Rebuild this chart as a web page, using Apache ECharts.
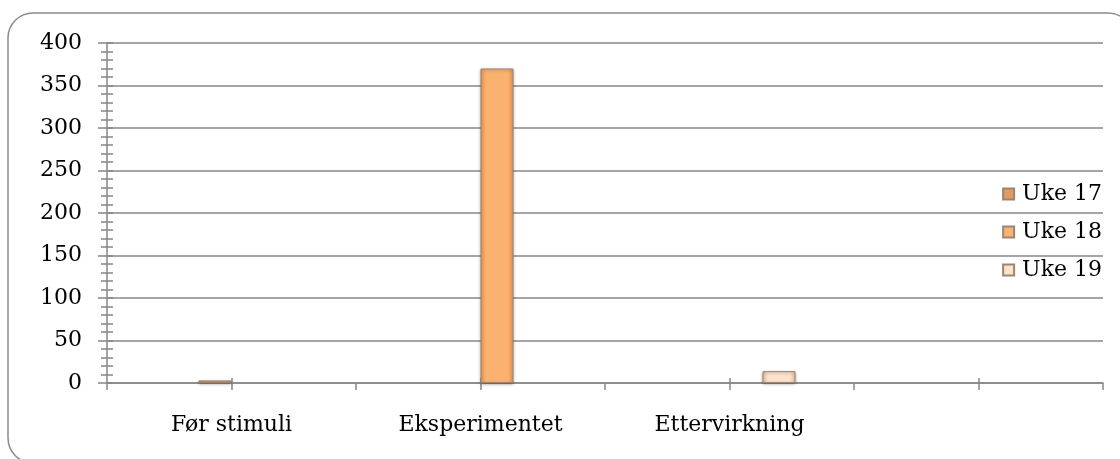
<!DOCTYPE html>
<html>
<head>
<meta charset="utf-8">
<script src="https://cdn.jsdelivr.net/npm/echarts@6/dist/echarts.min.js"></script>
<style>
  html, body { margin: 0; padding: 0; background: #fff; }
  #chart { width: 1120px; height: 459px; }
</style>
</head>
<body>
<div id="chart"></div>
<script>
// ---- data ----
const categories = ['Før stimuli', 'Eksperimentet', 'Ettervirkning', ''];
const seriesNames = ['Uke 17', 'Uke 18', 'Uke 19'];
// empty first slot in each category group (as in the original chart layout)
const emptySlot = [null, null, null, null];
const uke17 = [3, null, null, null];
const uke18 = [null, 370, null, null];
const uke19 = [null, null, 14, null];
const yTicks = { min: 0, max: 400, interval: 50 };

const FONT = 'DejaVu Serif';
const GRAY = '#878787';

function grad(edge, mid) {
  return new echarts.graphic.LinearGradient(0, 0, 1, 0, [
    { offset: 0, color: edge },
    { offset: 0.18, color: mid },
    { offset: 0.82, color: mid },
    { offset: 1, color: edge }
  ]);
}
const colors = [
  grad('#C9804A', '#E39A5E'),
  grad('#EE9650', '#FBB271'),
  grad('#EFC19C', '#FCE2CB')
];

const chart = echarts.init(document.getElementById('chart'), null, { renderer: 'canvas' });

const barCommon = {
  type: 'bar',
  xAxisIndex: 0,
  yAxisIndex: 0,
  barWidth: 33,
  barGap: '0%',
  itemStyle: {
    borderColor: '#9a8573',
    borderWidth: 1,
    shadowBlur: 3,
    shadowColor: 'rgba(0,0,0,0.3)',
    shadowOffsetY: 1
  }
};

const option = {
  animation: false,
  backgroundColor: '#fff',
  graphic: [{
    type: 'rect',
    z: -10,
    shape: { x: 8, y: 13, width: 1125, height: 450, r: 25 },
    style: { fill: 'none', stroke: '#8a8a8a', lineWidth: 1.5 }
  }],
  grid: { left: 107, right: 17, top: 43, bottom: 76, containLabel: false },
  legend: {
    orient: 'vertical',
    right: 18,
    top: 183,
    padding: 0,
    itemWidth: 11,
    itemHeight: 11,
    itemGap: 16,
    icon: 'rect',
    data: seriesNames,
    textStyle: { fontFamily: FONT, fontSize: 22, color: '#000', lineHeight: 22, padding: [0, 0, 0, 3] }
  },
  xAxis: [{
    type: 'category',
    data: categories,
    axisLine: { show: true, lineStyle: { color: GRAY, width: 1.5 } },
    axisTick: { show: true, alignWithLabel: false, length: 7, lineStyle: { color: GRAY, width: 1.5 } },
    axisLabel: { interval: 0, fontFamily: FONT, fontSize: 22, color: '#000', margin: 31 },
    splitLine: { show: false }
  }, {
    type: 'category',
    data: categories,
    position: 'bottom',
    offset: -5,
    axisLine: { show: false },
    axisTick: { show: true, alignWithLabel: true, length: 12, lineStyle: { color: GRAY, width: 1.5 } },
    axisLabel: { show: false },
    splitLine: { show: false }
  }],
  yAxis: [{
    type: 'value',
    min: yTicks.min, max: yTicks.max, interval: yTicks.interval,
    axisLine: { show: true, lineStyle: { color: GRAY, width: 1.5 } },
    axisTick: { show: true, length: 9, lineStyle: { color: GRAY, width: 1.5 } },
    minorTick: { show: true, splitNumber: 5, length: 6, lineStyle: { color: GRAY, width: 1.5 } },
    splitLine: { show: true, lineStyle: { color: GRAY, width: 1.5 } },
    axisLabel: { fontFamily: FONT, fontSize: 22, color: '#000', margin: 25 }
  }, {
    type: 'value',
    position: 'left',
    min: yTicks.min, max: yTicks.max, interval: yTicks.interval,
    axisLine: { show: false },
    axisTick: { show: true, inside: true, length: 6, lineStyle: { color: GRAY, width: 1.5 } },
    minorTick: { show: true, splitNumber: 5, length: 6, lineStyle: { color: GRAY, width: 1.5 } },
    splitLine: { show: false },
    axisLabel: { show: false }
  }],
  series: [
    Object.assign({}, barCommon, { name: '', data: emptySlot }),
    Object.assign({}, barCommon, { name: seriesNames[0], data: uke17, itemStyle: Object.assign({}, barCommon.itemStyle, { color: colors[0] }) }),
    Object.assign({}, barCommon, { name: seriesNames[1], data: uke18, itemStyle: Object.assign({}, barCommon.itemStyle, { color: colors[1] }) }),
    Object.assign({}, barCommon, { name: seriesNames[2], data: uke19, itemStyle: Object.assign({}, barCommon.itemStyle, { color: colors[2] }) })
  ]
};
chart.setOption(option);
</script>
</body>
</html>
